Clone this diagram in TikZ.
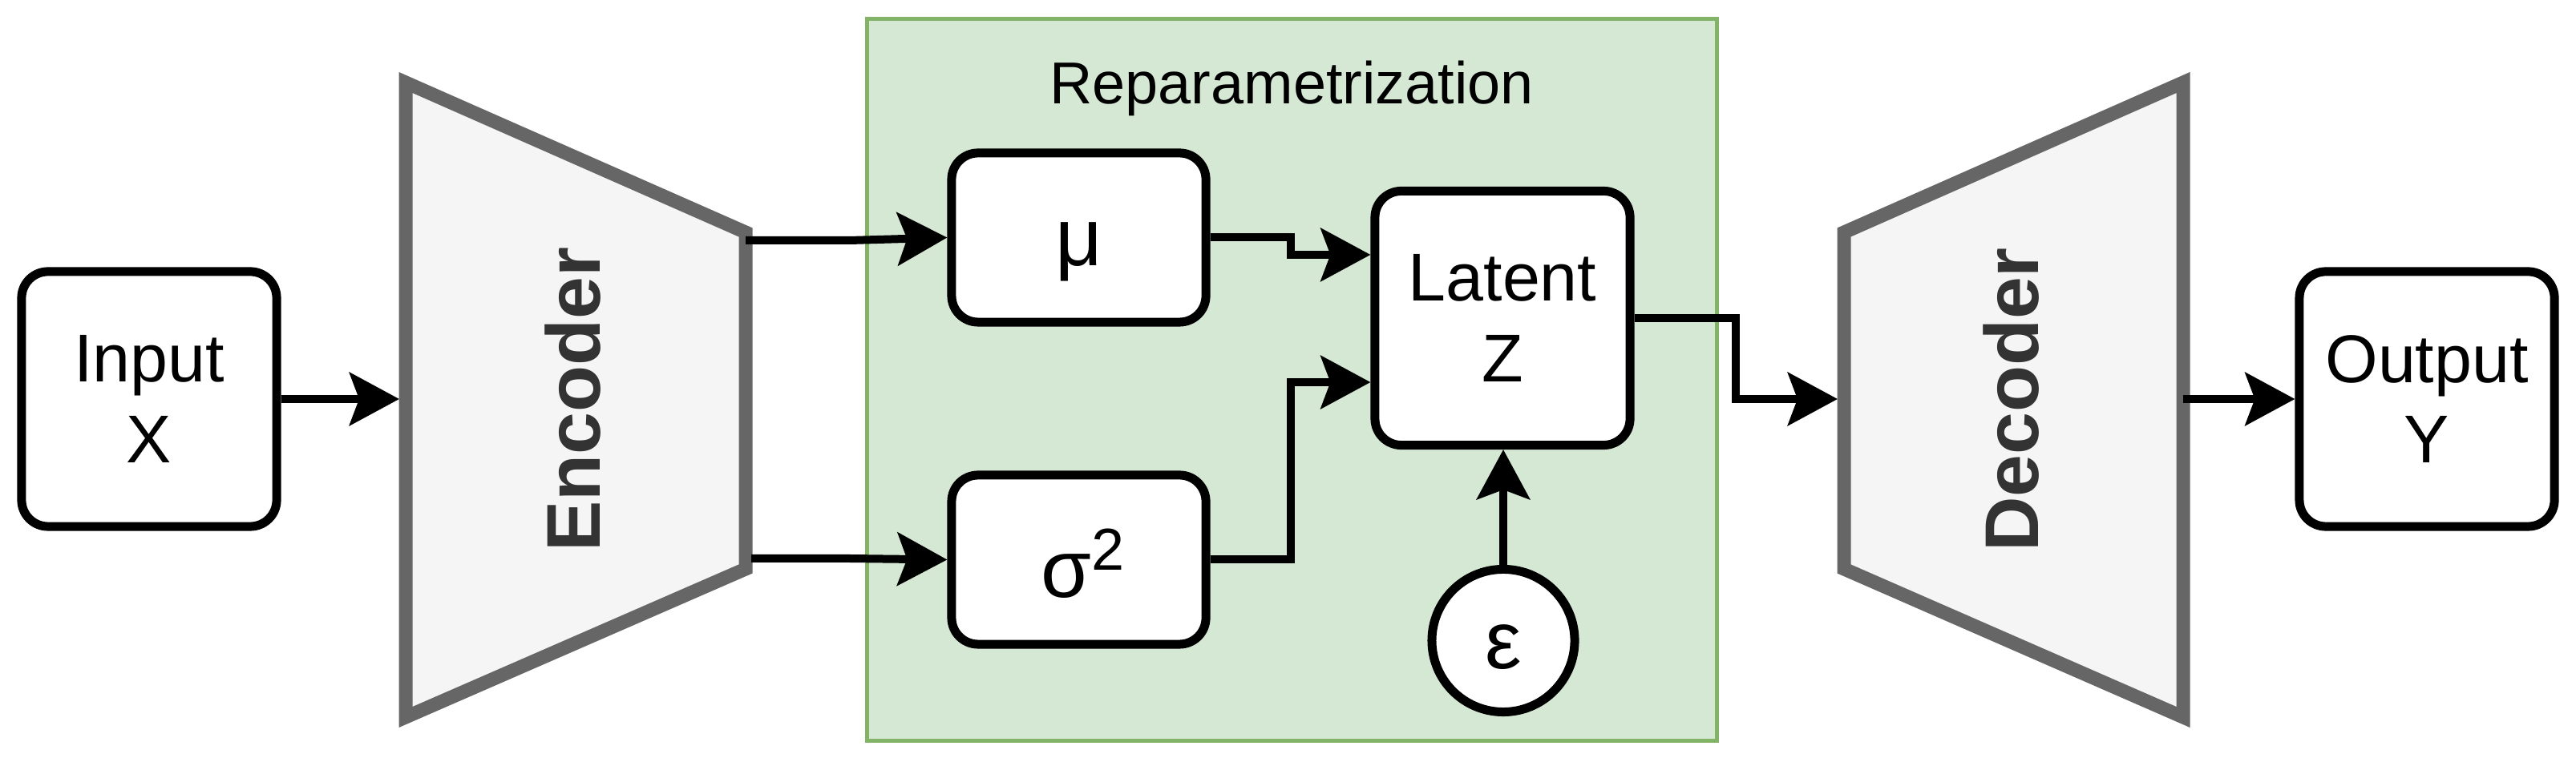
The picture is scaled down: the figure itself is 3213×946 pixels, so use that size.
\documentclass[tikz,border=0pt]{standalone}
\usepackage{fontspec}
\setmainfont{Liberation Sans}
\usetikzlibrary{arrows.meta}
\definecolor{encfill}{HTML}{F5F5F5}
\definecolor{encdraw}{HTML}{666666}
\definecolor{enctext}{HTML}{333333}
\definecolor{repfill}{HTML}{D5E8D4}
\definecolor{repdraw}{HTML}{82B366}
\begin{document}
\begin{tikzpicture}[x=0.01cm, y=0.01cm,
  box/.style={draw, line width=0.11cm, rounded corners=0.33cm, fill=white, inner sep=0pt, align=center, font=\fontsize{24}{28.45}\selectfont},
  greek/.style={font=\fontsize{29}{31}\selectfont, text height=0.7cm, text depth=0cm},
  arr/.style={line width=0.1cm, -{Stealth[length=0.62cm, width=0.66cm, inset=0.12cm]}},
  trap/.style={draw=encdraw, fill=encfill, line width=0.17cm, line join=miter},
  traplabel/.style={rotate=90, text=enctext, font=\bfseries\fontsize{27}{30}\selectfont},
]
\useasboundingbox (0,0) rectangle (3213,946);
% container
\node[draw=repdraw, fill=repfill, line width=0.05cm, minimum width=10.59cm, minimum height=9.0cm, inner sep=0pt] (rep) at (1611.5,472) {};
\node[anchor=base, font=\fontsize{21}{25}\selectfont] (reptitle) at (1611,816) {Reparametrization};
% encoder
\coordinate (e1) at (506,843);
\coordinate (e2) at (930,656);
\coordinate (e3) at (930,236);
\coordinate (e4) at (506,51);
\draw[trap] (e1) -- (e2) -- (e3) -- (e4) -- cycle;
\node[traplabel] (enc) at (715,447) {Encoder};
% decoder
\coordinate (d1) at (2300,656);
\coordinate (d2) at (2723,843);
\coordinate (d3) at (2723,51);
\coordinate (d4) at (2300,236);
\draw[trap] (d1) -- (d2) -- (d3) -- (d4) -- cycle;
\node[traplabel] (dec) at (2509,447) {Decoder};
% boxes
\node[box, minimum width=3.18cm, minimum height=3.18cm] (in) at (186,448) {Input\\X};
\node[box, minimum width=3.18cm, minimum height=3.18cm] (out) at (3027,448) {Output\\Y};
\node[box, minimum width=3.17cm, minimum height=2.11cm, greek] (mu) at (1345.5,649.5) {μ};
\node[box, minimum width=3.17cm, minimum height=2.11cm, font=\fontsize{29}{31}\selectfont, text height=0.93cm, text depth=0cm] (sig) at (1345.5,247.5) {\hspace*{0.1cm}σ\raisebox{9.4pt}{\fontsize{21}{23}\selectfont 2}};
\node[box, minimum width=3.18cm, minimum height=3.17cm] (lat) at (1874,549) {Latent\\Z};
\node[draw, circle, line width=0.11cm, fill=white, minimum size=1.78cm, inner sep=0pt, greek] (eps) at (1875,146.5) {ε};
% connector helpers
\coordinate (encIn) at (498,448);
\coordinate (decIn) at (2292,448);
\coordinate (decOut) at (2723,448);
\coordinate (encOutA) at (930,646);
\coordinate (encOutB) at (937,249);
\coordinate (j0) at (1060,0);
\coordinate (j1) at (1610,0);
\coordinate (j2) at (2165,0);
\coordinate (latA) at ([yshift=0.79cm]lat.west);
\coordinate (latB) at ([yshift=-0.8cm]lat.west);
% connectors
\draw[arr] (in.east) -- (encIn);
\draw[arr] (encOutA) -- (encOutA -| j0) -- (mu.west);
\draw[arr] (encOutB) -- (encOutB -| j0) -- (sig.west);
\draw[arr] (mu.east) -| (j1 |- latA) -- (latA);
\draw[arr] (sig.east) -| (j1 |- latB) -- (latB);
\draw[arr] (eps.north) -- (eps.north |- lat.south);
\draw[arr] (lat.east) -| (j2 |- decIn) -- (decIn);
\draw[arr] (decOut) -- (out.west);
\end{tikzpicture}
\end{document}
